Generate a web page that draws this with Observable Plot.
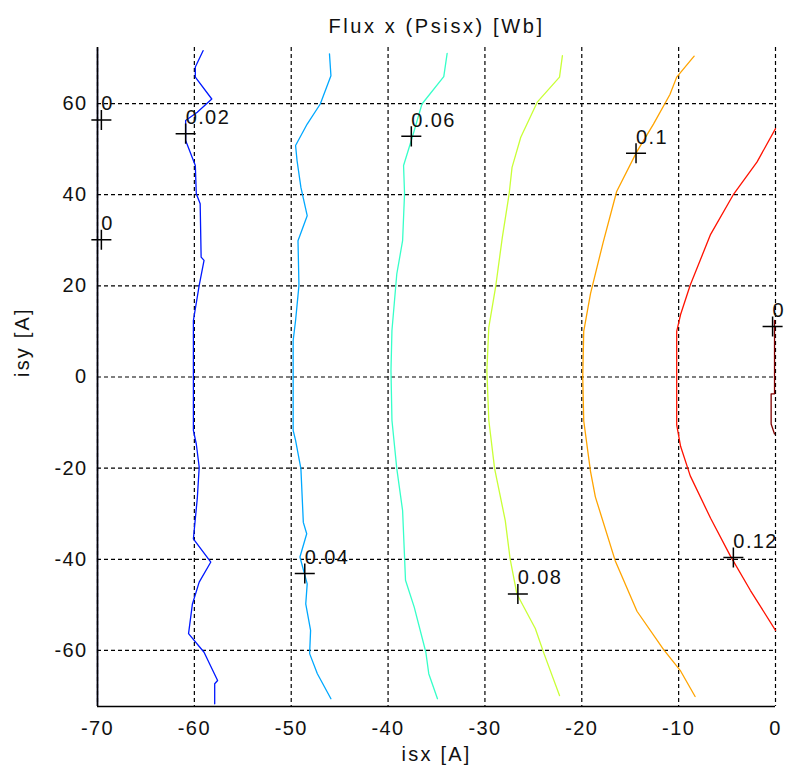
<!DOCTYPE html>
<html><head><meta charset="utf-8">
<script src="https://cdn.jsdelivr.net/npm/d3@7"></script>
<script src="https://cdn.jsdelivr.net/npm/@observablehq/plot@0.6"></script>
<style>
body{margin:0;background:#fff;}
#chart svg text{letter-spacing:1.4px;}
</style></head>
<body><div id="chart"></div>
<script>
const xTicks = [-70, -60, -50, -40, -30, -20, -10, 0];
const yTicks = [-60, -40, -20, 0, 20, 40, 60];
const levels = [0, 0.02, 0.04, 0.06, 0.08, 0.1, 0.12, 0.14];
const levelColors = ["#00008f", "#0018ff", "#00a8ff", "#36ffc9", "#c9ff36", "#ffa400", "#ff1200", "#800000"];

const level000 = [[-70, -72], [-70, 72]];
const level002 = [[-59.1,71.6],[-59.9,68.0],[-59.9,65.8],[-58.2,61.0],[-59.7,58.1],[-60.9,56.3],[-60.9,51.9],[-59.9,46.4],[-59.8,40.2],[-59.4,38.0],[-59.3,26.3],[-59.0,25.6],[-59.5,20.1],[-60.1,12.4],[-60.1,1.4],[-60.1,-11.7],[-59.8,-14.7],[-59.5,-19.8],[-59.7,-26.7],[-60.1,-35.5],[-58.3,-40.6],[-59.5,-45.0],[-60.2,-49.8],[-60.6,-56.3],[-59.0,-60.4],[-57.6,-66.6],[-57.9,-67.3],[-57.9,-71.7]];
const level004 = [[-46.05,70.9],[-45.9,66.1],[-47.0,59.9],[-48.35,55.5],[-49.55,50.8],[-49.4,47.5],[-49.0,41.6],[-48.35,35.4],[-49.3,29.9],[-49.2,20.1],[-49.55,12.4],[-49.8,8.0],[-49.8,1.4],[-49.8,-11.7],[-49.55,-13.9],[-49.0,-20.1],[-48.75,-31.9],[-48.4,-34.4],[-49.1,-39.5],[-48.35,-45.4],[-48.5,-49.8],[-48.0,-55.6],[-48.1,-60.7],[-47.3,-65.1],[-45.9,-70.6]];
const level006 = [[-33.9,71.0],[-34.25,65.9],[-36.5,59.9],[-37.5,52.6],[-38.4,46.4],[-38.3,40.2],[-38.5,29.9],[-39.1,22.6],[-39.6,10.2],[-39.7,1.4],[-39.6,-9.5],[-39.1,-20.1],[-38.5,-29.3],[-38.2,-44.6],[-37.3,-50.5],[-36.1,-60.4],[-35.8,-65.1],[-34.9,-70.6]];
const level008 = [[-22.0,70.5],[-22.3,65.8],[-24.6,60.3],[-26.3,52.6],[-27.2,46.0],[-27.5,40.2],[-28.2,30.7],[-28.9,19.7],[-29.6,10.9],[-29.8,1.4],[-29.6,-9.5],[-29.0,-20.1],[-27.9,-31.5],[-27.4,-39.9],[-26.7,-47.6],[-24.8,-55.2],[-23.9,-60.7],[-22.3,-69.9]];
const level010 = [[-8.4,70.4],[-10.2,65.8],[-10.9,62.0],[-12.6,55.5],[-14.3,49.5],[-16.4,40.7],[-17.8,29.5],[-19.1,18.3],[-19.8,10.0],[-19.9,0],[-19.8,-9.6],[-19.1,-20.7],[-18.6,-26.3],[-16.55,-40.3],[-14.3,-51.4],[-11.55,-59.8],[-9.8,-64.5],[-8.3,-70.1]];
const level012 = [[0,54.5],[-1.9,47.2],[-4.3,40.2],[-6.7,31.3],[-8.8,20.2],[-9.8,13.7],[-10.2,10.0],[-10.2,-10.5],[-9.8,-15.2],[-8.8,-21.7],[-6.7,-31.0],[-4.65,-39.3],[-2.6,-46.8],[0,-55.6]];
const level014 = [[-0.1,12.4],[-0.1,-3.7],[-0.45,-3.7],[-0.45,-10.3],[-0.1,-12.5]];

const labelText = ["0", "0", "0.02", "0.04", "0.06", "0.08", "0.1", "0.12", "0"];
const labelX = [-69.6, -69.6, -60.9, -48.6, -37.6, -26.6, -14.4, -4.35, -0.3];
const labelY = [56.4, 30.1, 53.4, -43.1, 52.8, -47.6, 49.1, -39.6, 11.1];

const contours = [level000, level002, level004, level006, level008, level010, level012, level014];
const labels = labelText.map((t, i) => ({t, x: labelX[i], y: labelY[i]}));

const fmt = d => String(d);
const chart = Plot.plot({
  width: 785, height: 778,
  marginLeft: 97, marginRight: 10, marginTop: 47, marginBottom: 72,
  style: {fontFamily: "'Liberation Sans', Arial, sans-serif", fontSize: "20px", background: "white", color: "#111"},
  x: {domain: [-70, 0], ticks: xTicks, tickSize: 0, tickPadding: 14, tickFormat: fmt, label: null},
  y: {domain: [-72.3, 72.3], ticks: yTicks, tickSize: 0, tickPadding: 10, tickFormat: fmt, label: null},
  marks: [
    Plot.ruleX(xTicks, {stroke: "black", strokeWidth: 1.2, strokeDasharray: "4,3"}),
    Plot.ruleY(yTicks, {stroke: "black", strokeWidth: 1.2, strokeDasharray: "4,3"}),
    ...contours.map((pts, i) => Plot.line(pts, {x: d => d[0], y: d => d[1], stroke: levelColors[i], strokeWidth: 1.3})),
    Plot.ruleX([xTicks[0]], {stroke: "black", strokeWidth: 1.6}),
    Plot.ruleY([-72.3], {stroke: "black", strokeWidth: 1.6}),
    Plot.dot(labels, {x: "x", y: "y", symbol: "plus", r: 6.5, stroke: "black", strokeWidth: 1.5}),
    Plot.text(labels, {x: "x", y: "y", text: "t", textAnchor: "start", dx: 0, dy: -16, fill: "#111", fontSize: 20}),
    Plot.text(["Flux x (Psisx) [Wb]"], {frameAnchor: "top", dy: -29, fontSize: 20, fill: "#111", className: "ttl"}),
    Plot.text(["isx [A]"], {frameAnchor: "bottom", dy: 54, fontSize: 20, fill: "#111"}),
    Plot.text(["isy [A]"], {frameAnchor: "left", dx: -75, rotate: -90, fontSize: 20, fill: "#111"})
  ]
});
document.getElementById("chart").appendChild(chart);
d3.select(chart).selectAll("text").filter(function(){ return this.textContent === "Flux x (Psisx) [Wb]"; }).style("letter-spacing", "2.6px");
d3.select(chart).selectAll("text").filter(function(){ return this.textContent === "isx [A]" || this.textContent === "isy [A]"; }).style("letter-spacing", "2.2px");
</script>
</body></html>
